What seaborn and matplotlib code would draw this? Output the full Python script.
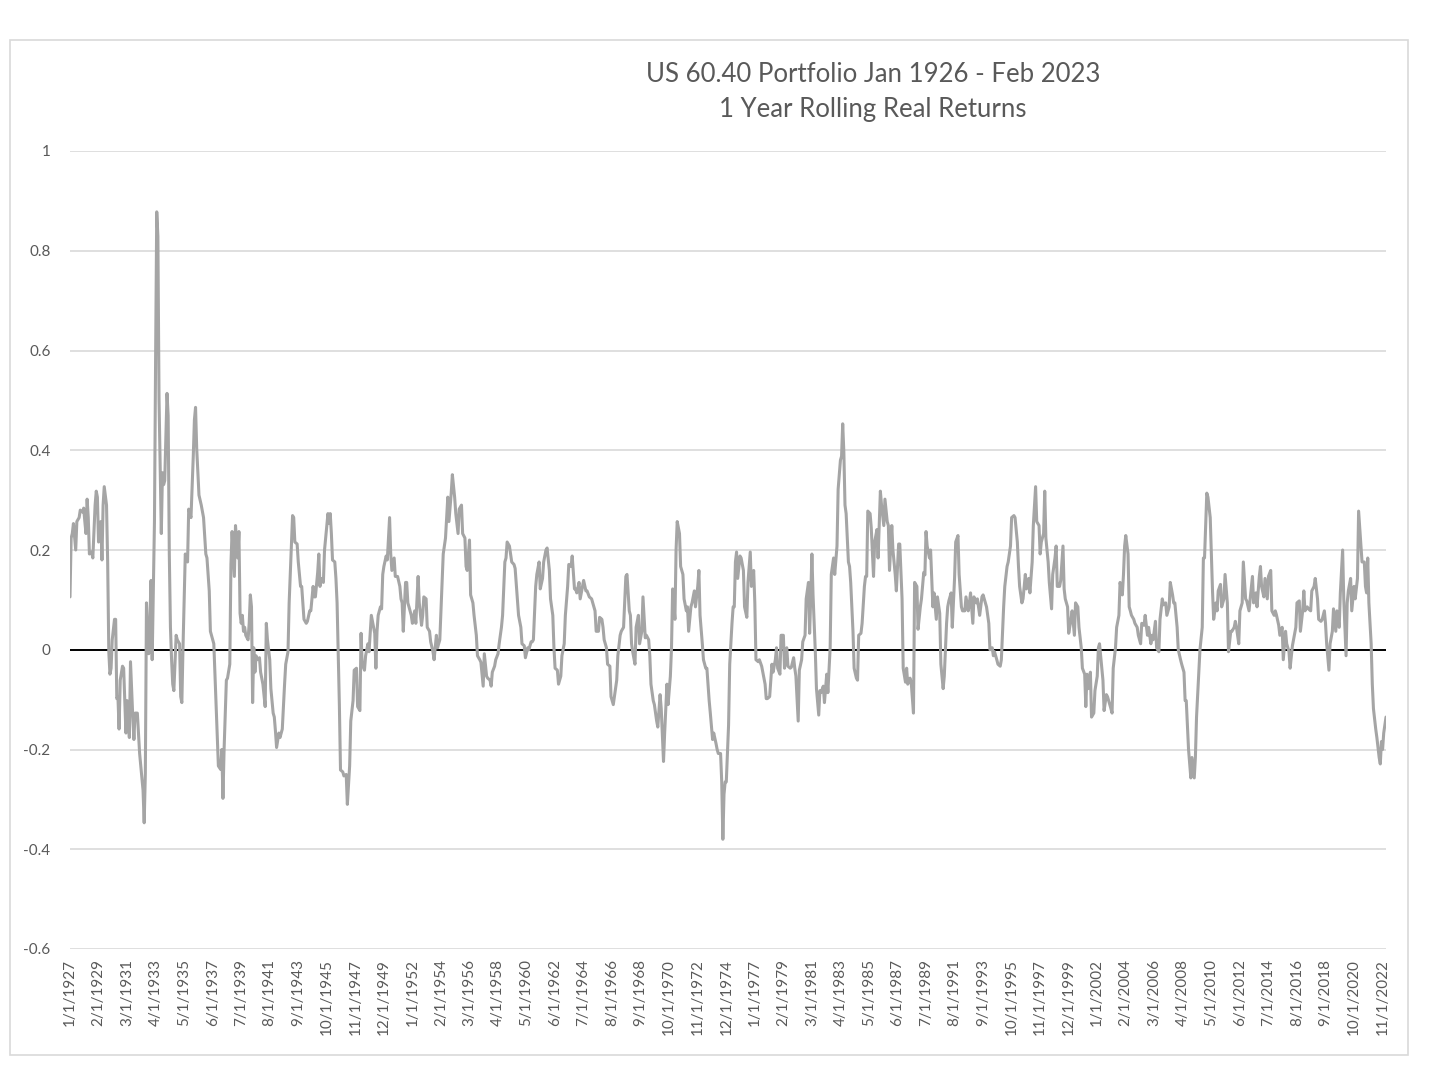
import matplotlib
matplotlib.use("Agg")
import matplotlib.pyplot as plt
import seaborn as sns
import pandas as pd
from matplotlib.patches import Rectangle

# ---------------- data: (months since Jan 1927, 1-year rolling real return) ----------------
returns_1927_1936 = [(0,0.106),(1,0.224),(2,0.233),(3,0.253),(5,0.200),(6,0.257),(8,0.265),(9,0.280),(11,0.276),(12,0.284),(13,0.257),(14,0.233),(15,0.302),(16,0.265),(17,0.192),(19,0.196),(20,0.184),(22,0.290),(23,0.318),(24,0.306),(25,0.216),(27,0.257),(28,0.180),(29,0.290),(30,0.327),(32,0.290),(33,0.176),(34,-0.004),(35,-0.049),(36,-0.037),(37,0.020),(39,0.061),(40,0.061),(41,-0.098),(42,-0.094),(43,-0.159),(44,-0.061),(46,-0.033),(47,-0.037),(49,-0.167),(50,-0.102),(52,-0.176),(53,-0.024),(55,-0.135),(56,-0.180),(57,-0.127),(59,-0.127),(61,-0.208),(63,-0.257),(64,-0.282),(65,-0.347),(66,-0.249),(67,0.094),(68,0.020),(69,-0.008),(70,0.061),(71,0.139),(72,-0.020),(74,0.257),(75,0.584),(76,0.878),(77,0.829),(78,0.502),(80,0.233),(81,0.355),(82,0.331),(83,0.339),(85,0.514),(86,0.469),(87,0.192),(88,0.045),(89,-0.020),(90,-0.069),(91,-0.082),(93,0.029),(94,0.020),(96,0.012),(97,-0.094),(98,-0.106),(99,0.004),(101,0.192),(103,0.176),(104,0.282),(106,0.265),(108,0.388),(109,0.461),(110,0.486),(111,0.404),(112,0.355),(113,0.310),(115,0.290),(117,0.265),(119,0.192)]
returns_1937_1946 = [(120,0.184),(122,0.118),(123,0.037),(126,0.012),(128,-0.110),(130,-0.233),(132,-0.240),(133,-0.200),(134,-0.298),(135,-0.200),(137,-0.061),(138,-0.057),(140,-0.029),(141,0.171),(142,0.237),(144,0.147),(145,0.249),(147,0.184),(148,0.237),(149,0.073),(150,0.053),(151,0.069),(152,0.037),(153,0.045),(154,0.029),(156,0.020),(157,0.053),(158,0.110),(159,0.086),(160,-0.106),(161,0.004),(162,-0.045),(163,-0.012),(164,-0.020),(166,-0.016),(167,-0.045),(169,-0.069),(171,-0.114),(172,0.053),(173,0.020),(175,-0.020),(176,-0.078),(178,-0.127),(179,-0.135),(180,-0.163),(181,-0.196),(183,-0.167),(184,-0.176),(186,-0.159),(188,-0.069),(189,-0.029),(191,-0.004),(192,0.094),(194,0.208),(195,0.269),(196,0.265),(197,0.216),(199,0.212),(200,0.176),(202,0.127),(203,0.127),(205,0.061),(207,0.053),(208,0.057),(210,0.078),(211,0.078),(213,0.127),(214,0.106),(215,0.106),(217,0.155),(218,0.192),(219,0.127),(220,0.143),(222,0.135),(223,0.200),(225,0.249),(226,0.273),(227,0.253),(228,0.273),(229,0.233),(230,0.180),(232,0.176),(233,0.143),(234,0.094),(236,-0.110),(237,-0.241),(239,-0.245)]
returns_1947_1956 = [(240,-0.253),(242,-0.250),(243,-0.310),(245,-0.233),(246,-0.143),(248,-0.102),(249,-0.041),(251,-0.037),(252,-0.114),(254,-0.122),(255,0.033),(256,-0.029),(258,-0.041),(259,-0.012),(261,0.012),(262,-0.004),(264,0.069),(265,0.057),(267,0.033),(268,-0.037),(269,0.037),(270,0.069),(272,0.086),(273,0.082),(274,0.151),(275,0.167),(277,0.188),(278,0.180),(280,0.265),(281,0.192),(282,0.159),(284,0.184),(285,0.147),(287,0.147),(289,0.127),(290,0.102),(291,0.094),(292,0.037),(294,0.135),(295,0.135),(296,0.094),(297,0.086),(299,0.069),(300,0.053),(302,0.078),(303,0.053),(305,0.147),(306,0.094),(308,0.049),(309,0.069),(310,0.106),(312,0.102),(313,0.045),(315,0.037),(316,0.016),(318,-0.004),(319,-0.020),(321,0.029),(322,0.004),(324,0.020),(325,0.078),(327,0.192),(328,0.208),(329,0.224),(331,0.306),(332,0.257),(334,0.314),(335,0.351),(337,0.306),(338,0.273),(340,0.233),(341,0.282),(343,0.290),(344,0.233),(346,0.224),(347,0.167),(348,0.159),(350,0.220),(351,0.110),(353,0.094),(354,0.069),(356,0.029),(357,-0.012),(359,-0.020)]
returns_1957_1966 = [(360,-0.025),(362,-0.073),(363,-0.008),(365,-0.053),(366,-0.057),(368,-0.061),(369,-0.073),(370,-0.045),(372,-0.033),(373,-0.020),(375,-0.008),(376,0.012),(378,0.045),(379,0.069),(381,0.176),(382,0.184),(383,0.216),(385,0.208),(386,0.192),(387,0.176),(389,0.171),(390,0.163),(392,0.102),(393,0.069),(395,0.045),(396,0.012),(398,0.008),(399,-0.016),(401,0.004),(402,0.000),(404,0.016),(405,0.016),(406,0.020),(408,0.127),(409,0.151),(411,0.176),(412,0.122),(414,0.143),(415,0.176),(417,0.200),(418,0.204),(420,0.159),(421,0.102),(423,0.069),(424,0.004),(425,-0.037),(427,-0.041),(428,-0.069),(430,-0.053),(431,-0.012),(433,0.012),(434,0.069),(436,0.127),(437,0.171),(439,0.167),(440,0.188),(442,0.122),(443,0.122),(444,0.114),(446,0.135),(447,0.102),(449,0.127),(450,0.139),(452,0.118),(453,0.118),(455,0.106),(457,0.102),(458,0.094),(460,0.078),(461,0.037),(463,0.037),(464,0.065),(466,0.061),(467,0.045),(468,0.020),(470,0.004),(471,-0.029),(473,-0.033),(474,-0.094),(476,-0.110),(477,-0.094),(479,-0.061)]
returns_1967_1976 = [(480,-0.012),(482,0.029),(483,0.037),(485,0.045),(486,0.094),(487,0.147),(488,0.151),(490,0.078),(491,0.069),(492,0.012),(493,-0.004),(495,-0.029),(496,0.045),(498,0.069),(499,0.012),(501,0.037),(502,0.106),(504,0.024),(505,0.029),(507,0.020),(508,-0.012),(509,-0.069),(511,-0.102),(512,-0.110),(514,-0.143),(515,-0.155),(517,-0.090),(518,-0.118),(520,-0.224),(521,-0.167),(523,-0.069),(524,-0.110),(526,-0.053),(527,0.004),(528,0.122),(530,0.061),(531,0.200),(532,0.257),(534,0.233),(535,0.167),(537,0.151),(538,0.102),(540,0.078),(541,0.086),(542,0.037),(544,0.086),(545,0.094),(547,0.118),(548,0.086),(550,0.127),(551,0.159),(552,0.069),(554,0.012),(555,-0.020),(557,-0.037),(558,-0.037),(560,-0.102),(561,-0.127),(563,-0.180),(564,-0.167),(566,-0.188),(567,-0.200),(568,-0.208),(570,-0.208),(571,-0.265),(572,-0.380),(573,-0.290),(574,-0.265),(575,-0.265),(577,-0.151),(578,-0.029),(580,0.053),(581,0.086),(582,0.086),(583,0.176),(584,0.196),(585,0.143),(587,0.188),(588,0.184),(590,0.159),(591,0.086),(593,0.065),(594,0.135),(596,0.196),(597,0.127),(599,0.159)]
returns_1977_1986 = [(600,0.094),(601,-0.020),(603,-0.024),(604,-0.020),(606,-0.033),(607,-0.045),(609,-0.069),(610,-0.098),(611,-0.098),(613,-0.094),(615,-0.029),(616,-0.045),(618,-0.020),(619,0.004),(620,-0.037),(622,-0.049),(623,0.029),(625,0.029),(626,-0.037),(628,0.004),(629,-0.033),(631,-0.037),(632,-0.035),(634,-0.016),(635,-0.037),(636,-0.053),(638,-0.143),(639,-0.041),(641,-0.020),(642,0.016),(644,0.029),(645,0.102),(647,0.135),(648,0.033),(649,0.106),(650,0.192),(651,0.110),(653,-0.004),(654,-0.078),(656,-0.131),(657,-0.082),(658,-0.086),(660,-0.073),(661,-0.106),(663,-0.049),(664,-0.086),(666,0.004),(667,0.151),(669,0.184),(670,0.151),(672,0.208),(673,0.322),(675,0.380),(676,0.388),(677,0.453),(678,0.396),(679,0.290),(680,0.273),(682,0.176),(683,0.167),(684,0.135),(686,0.037),(687,-0.037),(689,-0.057),(690,-0.061),(691,0.029),(693,0.033),(694,0.053),(696,0.127),(697,0.147),(698,0.147),(699,0.278),(701,0.273),(702,0.245),(704,0.147),(705,0.216),(707,0.241),(708,0.184),(710,0.318),(711,0.290),(713,0.249),(714,0.302),(716,0.257),(717,0.249),(718,0.159)]
returns_1987_1996 = [(720,0.249),(721,0.200),(723,0.151),(724,0.118),(726,0.212),(727,0.212),(729,0.102),(730,-0.037),(732,-0.065),(733,-0.037),(734,-0.069),(736,-0.057),(737,-0.065),(739,-0.127),(740,0.135),(742,0.127),(743,0.041),(745,0.086),(746,0.102),(748,0.155),(749,0.150),(750,0.237),(751,0.208),(753,0.184),(754,0.200),(756,0.086),(757,0.114),(759,0.061),(760,0.106),(762,0.073),(763,-0.029),(765,-0.078),(766,-0.053),(768,0.053),(769,0.086),(770,0.098),(772,0.114),(773,0.045),(775,0.143),(776,0.216),(778,0.229),(779,0.151),(781,0.086),(782,0.078),(784,0.078),(785,0.106),(787,0.078),(788,0.094),(789,0.114),(791,0.053),(792,0.106),(794,0.094),(795,0.102),(797,0.069),(799,0.106),(800,0.110),(802,0.094),(803,0.086),(805,0.053),(806,0.000),(808,0.004),(809,-0.012),(810,-0.004),(812,-0.020),(813,-0.029),(815,-0.033),(816,-0.020),(818,0.086),(819,0.127),(821,0.167),(822,0.176),(824,0.208),(825,0.265),(827,0.269),(828,0.265),(830,0.216),(831,0.167),(832,0.127),(834,0.094),(835,0.102),(837,0.151),(838,0.122)]
returns_1997_2006 = [(840,0.143),(841,0.114),(843,0.176),(844,0.249),(846,0.327),(847,0.257),(849,0.249),(850,0.192),(851,0.216),(853,0.233),(854,0.318),(855,0.224),(857,0.176),(858,0.135),(860,0.082),(861,0.151),(863,0.184),(864,0.208),(865,0.127),(867,0.127),(868,0.139),(870,0.208),(871,0.122),(872,0.102),(874,0.086),(875,0.033),(877,0.061),(878,0.078),(880,0.029),(881,0.094),(883,0.086),(884,0.045),(886,0.004),(887,-0.037),(889,-0.049),(890,-0.114),(891,-0.049),(892,-0.078),(894,-0.045),(895,-0.135),(897,-0.127),(898,-0.082),(900,-0.053),(901,0.004),(902,0.012),(904,-0.037),(905,-0.061),(906,-0.122),(908,-0.090),(909,-0.094),(911,-0.110),(912,-0.118),(913,-0.127),(914,-0.037),(916,0.004),(917,0.045),(919,0.069),(920,0.135),(922,0.110),(923,0.151),(924,0.208),(925,0.229),(927,0.192),(928,0.086),(929,0.078),(930,0.069),(932,0.061),(933,0.053),(935,0.045),(936,0.029),(938,0.012),(939,0.053),(941,0.049),(942,0.069),(944,0.029),(945,0.045),(947,0.012),(948,0.029),(949,0.020),(951,0.057),(952,0.004),(954,-0.004),(955,0.061),(957,0.102),(958,0.090)]
returns_2007_2016 = [(960,0.094),(961,0.069),(963,0.086),(964,0.135),(966,0.110),(967,0.094),(968,0.094),(970,0.045),(971,0.000),(973,-0.020),(974,-0.029),(976,-0.045),(977,-0.102),(978,-0.102),(980,-0.200),(982,-0.257),(983,-0.216),(985,-0.257),(986,-0.216),(987,-0.135),(989,-0.045),(990,0.000),(992,0.045),(993,0.184),(994,0.184),(996,0.314),(997,0.306),(999,0.265),(1000,0.192),(1001,0.118),(1002,0.061),(1004,0.094),(1005,0.078),(1006,0.118),(1008,0.131),(1009,0.086),(1011,0.102),(1012,0.151),(1014,0.094),(1015,-0.004),(1017,0.037),(1018,0.037),(1020,0.045),(1021,0.057),(1022,0.045),(1024,0.012),(1025,0.078),(1027,0.094),(1028,0.176),(1030,0.102),(1031,0.098),(1033,0.078),(1034,0.102),(1036,0.147),(1037,0.094),(1039,0.114),(1040,0.086),(1042,0.147),(1043,0.167),(1044,0.127),(1046,0.106),(1047,0.143),(1049,0.102),(1050,0.147),(1052,0.159),(1053,0.078),(1055,0.069),(1056,0.078),(1057,0.070),(1059,0.049),(1060,0.029),(1062,0.045),(1063,-0.020),(1065,0.037),(1066,0.012),(1068,-0.004),(1069,-0.037),(1071,0.008),(1072,0.020),(1074,0.045),(1075,0.094),(1077,0.098),(1078,0.037)]
returns_2017_2023 = [(1080,0.078),(1081,0.118),(1082,0.078),(1084,0.086),(1085,0.082),(1087,0.078),(1088,0.118),(1090,0.127),(1091,0.143),(1093,0.102),(1094,0.061),(1096,0.057),(1097,0.060),(1099,0.078),(1100,0.053),(1101,0.012),(1103,-0.041),(1104,0.012),(1106,0.037),(1107,0.082),(1109,0.037),(1110,0.078),(1112,0.045),(1113,0.114),(1115,0.200),(1116,0.102),(1118,-0.012),(1119,0.094),(1120,0.118),(1122,0.143),(1123,0.078),(1125,0.127),(1126,0.102),(1128,0.143),(1129,0.278),(1131,0.208),(1132,0.176),(1134,0.176),(1135,0.127),(1136,0.114),(1137,0.184),(1138,0.094),(1140,0.012),(1141,-0.069),(1142,-0.118),(1144,-0.159),(1145,-0.176),(1147,-0.216),(1148,-0.229),(1149,-0.184),(1150,-0.200),(1151,-0.167),(1153,-0.135)]

x_tick_labels = ["1/1/1927","2/1/1929","3/1/1931","4/1/1933","5/1/1935","6/1/1937","7/1/1939","8/1/1941",
                 "9/1/1943","10/1/1945","11/1/1947","12/1/1949","1/1/1952","2/1/1954","3/1/1956","4/1/1958",
                 "5/1/1960","6/1/1962","7/1/1964","8/1/1966","9/1/1968","10/1/1970","11/1/1972","12/1/1974",
                 "1/1/1977","2/1/1979","3/1/1981","4/1/1983","5/1/1985","6/1/1987","7/1/1989","8/1/1991",
                 "9/1/1993","10/1/1995","11/1/1997","12/1/1999","1/1/2002","2/1/2004","3/1/2006","4/1/2008",
                 "5/1/2010","6/1/2012","7/1/2014","8/1/2016","9/1/2018","10/1/2020","11/1/2022"]
y_tick_values = [-0.6, -0.4, -0.2, 0, 0.2, 0.4, 0.6, 0.8, 1]
y_tick_labels = ["-0.6", "-0.4", "-0.2", "0", "0.2", "0.4", "0.6", "0.8", "1"]
title_lines = ["US 60.40 Portfolio Jan 1926 - Feb 2023", "1 Year Rolling Real Returns"]

# ---------------- build frame ----------------
points = (returns_1927_1936 + returns_1937_1946 + returns_1947_1956 + returns_1957_1966 +
          returns_1967_1976 + returns_1977_1986 + returns_1987_1996 + returns_1997_2006 +
          returns_2007_2016 + returns_2017_2023)
df = pd.DataFrame(points, columns=["month", "real_return"])

def label_to_offset(lbl):
    mo, _, yr = lbl.split("/")
    return (int(yr) - 1927) * 12 + int(mo) - 1

x_tick_pos = [label_to_offset(l) for l in x_tick_labels]

# ---------------- plot ----------------
sns.set_theme(style="white")
plt.rcParams['font.family'] = ['Lato', 'DejaVu Sans']

W, H = 1440, 1074
fig = plt.figure(figsize=(W / 100, H / 100), dpi=100)
fig.patch.set_facecolor("white")
ax = fig.add_axes([70 / W, 1 - 949 / H, (1386 - 70) / W, (949 - 151) / H])

ax.axhline(0, color="black", lw=1.4, zorder=1.5)
sns.lineplot(data=df, x="month", y="real_return", ax=ax, color="#a5a5a5",
             linewidth=2.2, estimator=None, sort=False, zorder=2)

ax.set_xlim(0, 1153)
ax.set_ylim(-0.6, 1)
ax.set_yticks(y_tick_values)
ax.set_yticklabels(y_tick_labels)
ax.set_xticks(x_tick_pos)
ax.set_xticklabels(x_tick_labels, rotation=90)
ax.grid(axis="y", color="#d9d9d9", lw=1.2, zorder=0)
ax.grid(axis="x", visible=False)
for s in ax.spines.values():
    s.set_visible(False)
ax.tick_params(axis="y", length=0, pad=14, labelsize=11, labelcolor="#595959")
ax.tick_params(axis="x", length=0, pad=7, labelsize=11, labelcolor="#595959")
ax.set_xlabel("")
ax.set_ylabel("")

fig.text(873 / W, 1 - 92 / H, "\n".join(title_lines), ha="center", va="center",
         fontsize=18.5, color="#595959", linespacing=1.5)

fig.patches.append(Rectangle((10 / W, 1 - 1055 / H), (1408 - 10) / W, (1055 - 40) / H,
                             transform=fig.transFigure, fill=False, edgecolor="#d9d9d9", lw=1.2))

fig.savefig("out.png", dpi=100)
